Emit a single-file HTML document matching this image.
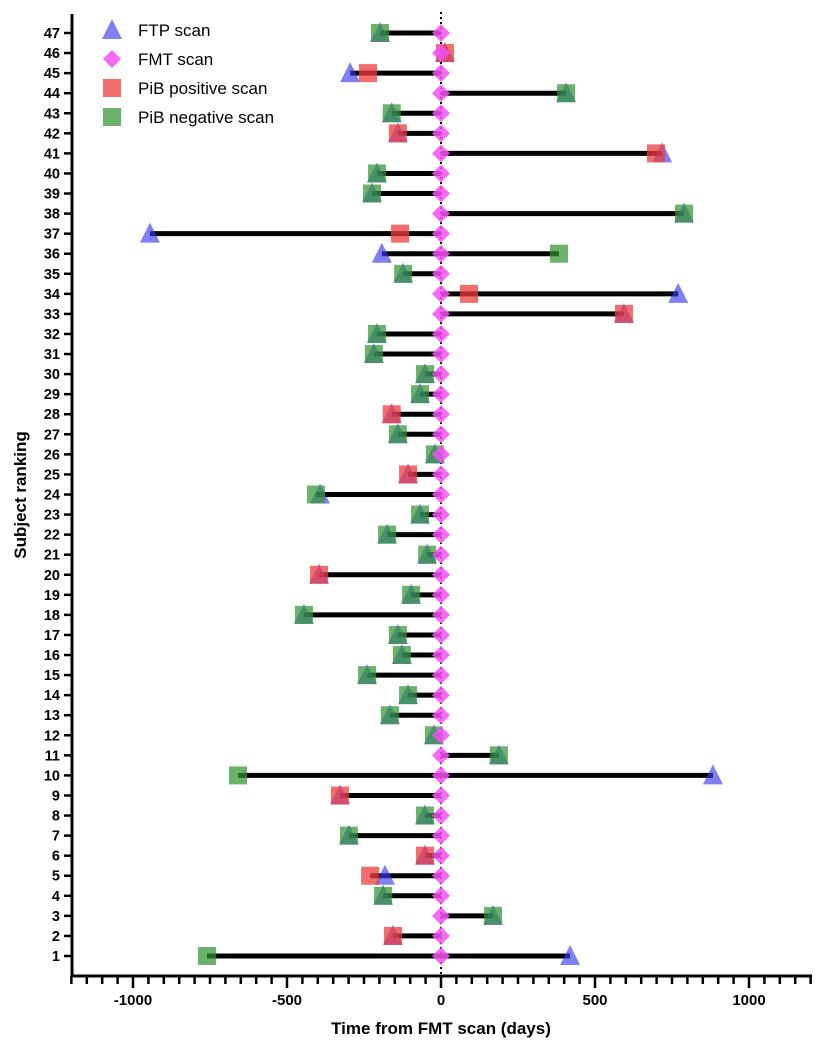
<!DOCTYPE html>
<html><head><meta charset="utf-8"><style>
html,body{margin:0;padding:0;background:#fff;width:824px;height:1050px;overflow:hidden}
svg{display:block;font-family:"Liberation Sans",Arial,sans-serif}
</style></head><body>
<svg id="chart" width="824" height="1050" xmlns="http://www.w3.org/2000/svg">
<g id="axes"></g>
<g id="marks"></g>
<g id="legend"></g>
<text x="441" y="1034" text-anchor="middle" font-size="17" font-weight="bold">Time from FMT scan (days)</text>
<text transform="translate(26,495) rotate(-90)" text-anchor="middle" font-size="17" font-weight="bold">Subject ranking</text>
</svg>
<script>
const subjects = [1,2,3,4,5,6,7,8,9,10,11,12,13,14,15,16,17,18,19,20,21,22,23,24,25,26,27,28,29,30,31,32,33,34,35,36,37,38,39,40,41,42,43,44,45,46,47];
const ftpDays = [419,-156,169,-188,-182,-52,-299,-52,-328,883,188,-23,-166,-107,-240,-127,-140,-445,-97,-396,-45,-175,-68,-393,-107,-20,-140,-160,-68,-52,-218,-208,594,770,-123,-192,-945,789,-224,-208,718,-140,-160,406,-295,13,-198];
const pibDays = [-760,-156,169,-188,-230,-52,-299,-52,-328,-659,188,-23,-166,-107,-240,-127,-140,-445,-97,-396,-45,-175,-68,-406,-107,-20,-140,-160,-68,-52,-218,-208,594,91,-123,383,-133,789,-224,-208,698,-140,-160,406,-237,13,-198];
const pibPositive = [0,1,0,0,1,1,0,0,1,0,0,0,0,0,0,0,0,0,0,1,0,0,0,0,1,0,0,1,0,0,0,0,1,1,0,0,1,0,0,0,1,1,0,0,1,1,0];
const xTicks = [-1000,-500,0,500,1000];
const xMin = -1200, xMax = 1200;

const NS = "http://www.w3.org/2000/svg";
const X = v => 441 + v * 0.308;
const Y = s => 956 - (s - 1) * (923 / 46);
function mk(tag, attrs, parent){const e=document.createElementNS(NS,tag);for(const k in attrs)e.setAttribute(k,attrs[k]);parent.appendChild(e);return e;}
const axes=document.getElementById('axes'), marks=document.getElementById('marks'), legend=document.getElementById('legend');

let a = mk('line',{x1:72,y1:14,x2:72,y2:977,stroke:'#000','stroke-width':3},axes);


subjects.forEach(s=>{
  const t=mk('line',{x1:64,y1:Y(s),x2:72,y2:Y(s),stroke:'#000','stroke-width':2.5},axes);
  
  
  const l=mk('text',{x:60,y:Y(s)+5,'text-anchor':'end','font-size':14.5,'font-weight':'bold'},axes);
  l.textContent=s;
  
  
});
a = mk('line',{x1:71,y1:976,x2:812,y2:976,stroke:'#000','stroke-width':3},axes);


for(let v=xMin; v<=xMax; v+=50){
  const major = v%500===0;
  const t=mk('line',{x1:X(v),y1:976,x2:X(v),y2:major?988:984,stroke:'#000','stroke-width':2.5},axes);
  
  
}
xTicks.forEach(v=>{
  const l=mk('text',{x:X(v),y:1005,'text-anchor':'middle','font-size':15,'font-weight':'bold'},axes);
  l.textContent=v;
  
  
});
a = mk('line',{x1:X(0),y1:12,x2:X(0),y2:975,stroke:'#000','stroke-width':2,'stroke-dasharray':'2,3'},axes);



function tri(cx,cy,size,parent){
  const h=size*0.9;
  return mk('polygon',{points:`${cx},${cy-h/2-2} ${cx-size/2},${cy+h/2} ${cx+size/2},${cy+h/2}`,fill:'rgba(60,60,240,0.65)'},parent);
}
function sq(cx,cy,pos,parent){
  return mk('rect',{x:cx-9,y:cy-9,width:18,height:18,fill:pos?'rgba(240,60,60,0.75)':'rgba(50,150,50,0.72)'},parent);
}
function dia(cx,cy,parent){
  return mk('polygon',{points:`${cx},${cy-9} ${cx+9},${cy} ${cx},${cy+9} ${cx-9},${cy}`,fill:'rgba(245,80,245,0.85)'},parent);
}
subjects.forEach((s,i)=>{
  const y=Y(s);
  const lo=Math.min(0,ftpDays[i],pibDays[i]), hi=Math.max(0,ftpDays[i],pibDays[i]);
  const ln=mk('line',{x1:X(lo),y1:y,x2:X(hi),y2:y,stroke:'#000','stroke-width':5},marks);
  
  
  const t=tri(X(ftpDays[i]),y,20,marks);
  
  
  const q=sq(X(pibDays[i]),y,pibPositive[i],marks);
  
  
  const d=dia(X(0),y,marks);
  
  
});
const items=[['FTP scan','tri'],['FMT scan','dia'],['PiB positive scan','pos'],['PiB negative scan','neg']];
items.forEach((it,k)=>{
  const cy=30+k*29, cx=112;
  let m;
  if(it[1]==='tri') m=tri(cx,cy,20,legend);
  else if(it[1]==='dia') m=dia(cx,cy,legend);
  else m=sq(cx,cy,it[1]==='pos',legend);
  
  
  const tx=mk('text',{x:138,y:cy+6,'font-size':17},legend);
  tx.textContent=it[0];
  
  
});
</script>
</body></html>
